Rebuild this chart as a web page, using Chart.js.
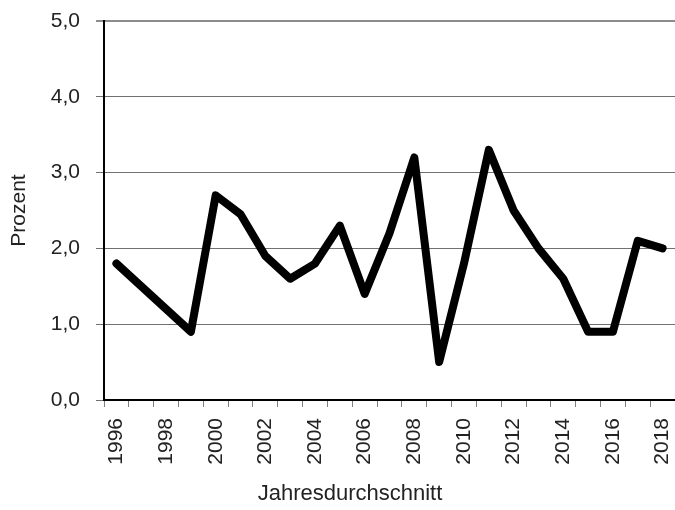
<!DOCTYPE html>
<html>
<head>
<meta charset="utf-8">
<script src="https://cdn.jsdelivr.net/npm/chart.js@4/dist/chart.umd.min.js"></script>
<style>
  body { margin: 0; background: #fff; }
  #wrap { width: 675px; height: 510px; }
</style>
</head>
<body>
<div id="wrap"><canvas id="myChart"></canvas></div>
<script>
const years = ['1996','1997','1998','1999','2000','2001','2002','2003','2004','2005','2006','2007',
  '2008','2009','2010','2011','2012','2013','2014','2015','2016','2017','2018'];
const prozent = [1.8, 1.5, 1.2, 0.9, 2.7, 2.45, 1.9, 1.6, 1.8, 2.3, 1.4, 2.2,
  3.2, 0.5, 1.8, 3.3, 2.5, 2.0, 1.6, 0.9, 0.9, 2.1, 2.0];
const xTitle = 'Jahresdurchschnitt';

const fontFam = "'Liberation Sans', Arial, sans-serif";

// x axis title sits left of the plot centre in the original, so draw it by hand
const xTitlePlugin = {
  id: 'xTitle',
  afterDraw(chart) {
    const c = chart.ctx;
    c.save();
    c.font = '22px ' + fontFam;
    c.fillStyle = '#222';
    c.textAlign = 'center';
    c.textBaseline = 'middle';
    c.fillText(xTitle, 350, 494);
    c.restore();
  }
};

const config = {
  type: 'line',
  data: {
    labels: years,
    datasets: [{
      label: 'Prozent',
      data: prozent,
      borderColor: '#000',
      borderWidth: 8,
      borderJoinStyle: 'round',
      borderCapStyle: 'round',
      pointRadius: 0,
      tension: 0,
      fill: false
    }]
  },
  options: {
    responsive: true,
    maintainAspectRatio: false,
    animation: false,
    layout: { padding: { top: 21, right: -2, left: 0, bottom: 0 } },
    plugins: { legend: { display: false }, tooltip: { enabled: false } },
    scales: {
      x: {
        offset: true,
        grid: { offset: true, drawOnChartArea: false, drawTicks: true, tickLength: 7, color: '#808080' },
        border: { color: '#000', width: 2 },
        ticks: {
          autoSkip: false,
          maxRotation: 90, minRotation: 90,
          padding: 11,
          color: '#222',
          font: { family: fontFam, size: 21 },
          callback: function(v, i) { return i % 2 === 0 ? years[i] : ''; }
        },
        afterFit: function(s) { s.height = 110; s.paddingRight = 0; s.paddingLeft = 0; }
      },
      y: {
        min: 0, max: 5,
        grid: {
          color: function(c) { return c.tick && c.tick.value === 5 ? '#8c8c8c' : '#707070'; },
          lineWidth: function(c) { return c.tick && c.tick.value === 5 ? 2 : 1; },
          tickLength: 8
        },
        border: { color: '#000', width: 2 },
        ticks: {
          stepSize: 1,
          padding: 16,
          color: '#222',
          font: { family: fontFam, size: 21 },
          callback: function(v) { return v.toFixed(1).replace('.', ','); }
        },
        title: { display: true, text: 'Prozent', color: '#222',
          font: { family: fontFam, size: 21 }, padding: { top: 7, bottom: 0 } },
        afterFit: function(s) { s.width = 104; s.paddingTop = 0; s.paddingBottom = 0; }
      }
    }
  },
  plugins: [xTitlePlugin]
};

const ctx = document.getElementById('myChart').getContext('2d');
const myChart = new Chart(ctx, config);
</script>
</body>
</html>
